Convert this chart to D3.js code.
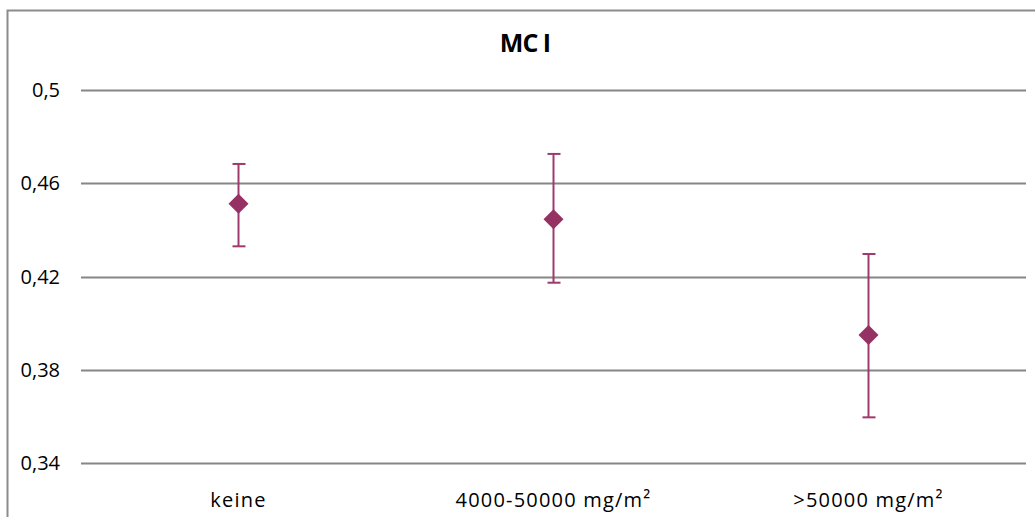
<!DOCTYPE html>
<html>
<head>
<meta charset="utf-8">
<script src="https://cdn.jsdelivr.net/npm/d3@7"></script>
<style>
  html, body { margin: 0; padding: 0; background: #fff; overflow: hidden; }
  text { font-family: "Open Sans", "Noto Sans", sans-serif; fill: #000; }
</style>
</head>
<body>
<div id="chart"></div>
<script>
'use strict';

// data
var categories = ["keine", "4000-50000 mg/m²", ">50000 mg/m²"];
var means = [0.4512, 0.4446, 0.3950];
var upper = [0.4683, 0.4726, 0.4297];
var lower = [0.4330, 0.4174, 0.3597];
var yTicks = [0.34, 0.38, 0.42, 0.46, 0.5];
var title = "MC I";

var W = 1035, H = 517;
var margin = { top: 90, left: 81, right: 8, bottom: 54 };
var width = 1026 - margin.left,
  height = 463.3 - margin.top;

var svg = d3.select("#chart").append("svg")
  .attr("width", W)
  .attr("height", H);

// chart border (cropped at right and bottom)
svg.append("rect")
  .attr("x", 7.5).attr("y", 10.5)
  .attr("width", 1040).attr("height", 530)
  .attr("fill", "#fff")
  .attr("stroke", "#8c8c8c")
  .attr("stroke-width", 2);

var g = svg.append("g")
  .attr("transform", "translate(" + margin.left + "," + margin.top + ")");

var x = d3.scaleBand().domain(categories).range([0, width]);
var y = d3.scaleLinear().domain([0.34, 0.5]).range([height, 0]);

var fmt = function(d) { return String(d).replace(".", ","); };

// gridlines
g.selectAll(".grid")
  .data(yTicks)
  .enter().append("line")
  .attr("class", "grid")
  .attr("x1", 0).attr("x2", width)
  .attr("y1", function(d) { return Math.round(y(d)) + 0.5; })
  .attr("y2", function(d) { return Math.round(y(d)) + 0.5; })
  .attr("stroke", "#868686")
  .attr("stroke-width", 2);

// y axis labels
var yAxis = d3.axisLeft(y).tickValues(yTicks).tickFormat(fmt).tickSize(0).tickPadding(21);
var ya = g.append("g").call(yAxis);
ya.select(".domain").remove();
ya.selectAll("text")
  .style("font-size", "20px")
  .style("font-family", "'Open Sans', sans-serif")
  .attr("fill", "#000");

// x axis labels
var xAxis = d3.axisBottom(x).tickSize(0).tickPadding(30);
var xa = g.append("g").attr("transform", "translate(0," + height + ")").call(xAxis);
xa.select(".domain").remove();
xa.selectAll("text")
  .style("font-size", "20px")
  .style("font-family", "'Open Sans', sans-serif")
  .style("letter-spacing", "1.2px")
  .attr("fill", "#000");

var cx = function(i) { return x(categories[i]) + x.bandwidth() / 2; };
var barColor = "#9e3a6c", markColor = "#953163";

var pts = g.selectAll(".pt")
  .data(means)
  .enter().append("g")
  .attr("class", "pt");

// error bars
pts.append("line")
  .attr("x1", function(d, i) { return cx(i); })
  .attr("x2", function(d, i) { return cx(i); })
  .attr("y1", function(d, i) { return y(upper[i]); })
  .attr("y2", function(d, i) { return y(lower[i]); })
  .attr("stroke", barColor).attr("stroke-width", 2);

pts.append("line")
  .attr("x1", function(d, i) { return cx(i) - 6; })
  .attr("x2", function(d, i) { return cx(i) + 7; })
  .attr("y1", function(d, i) { return y(upper[i]); })
  .attr("y2", function(d, i) { return y(upper[i]); })
  .attr("stroke", barColor).attr("stroke-width", 2);

pts.append("line")
  .attr("x1", function(d, i) { return cx(i) - 6; })
  .attr("x2", function(d, i) { return cx(i) + 7; })
  .attr("y1", function(d, i) { return y(lower[i]); })
  .attr("y2", function(d, i) { return y(lower[i]); })
  .attr("stroke", barColor).attr("stroke-width", 2);

// diamond markers
pts.append("path")
  .attr("d", "M0,-10L10,0L0,10L-10,0Z")
  .attr("transform", function(d, i) { return "translate(" + cx(i) + "," + y(d) + ")"; })
  .attr("fill", markColor);

// title
svg.append("text")
  .attr("x", 525)
  .attr("y", 52)
  .attr("text-anchor", "middle")
  .style("font-size", "25px")
  .style("font-weight", "bold")
  .style("letter-spacing", "-1px")
  .text(title);
</script>
</body>
</html>
